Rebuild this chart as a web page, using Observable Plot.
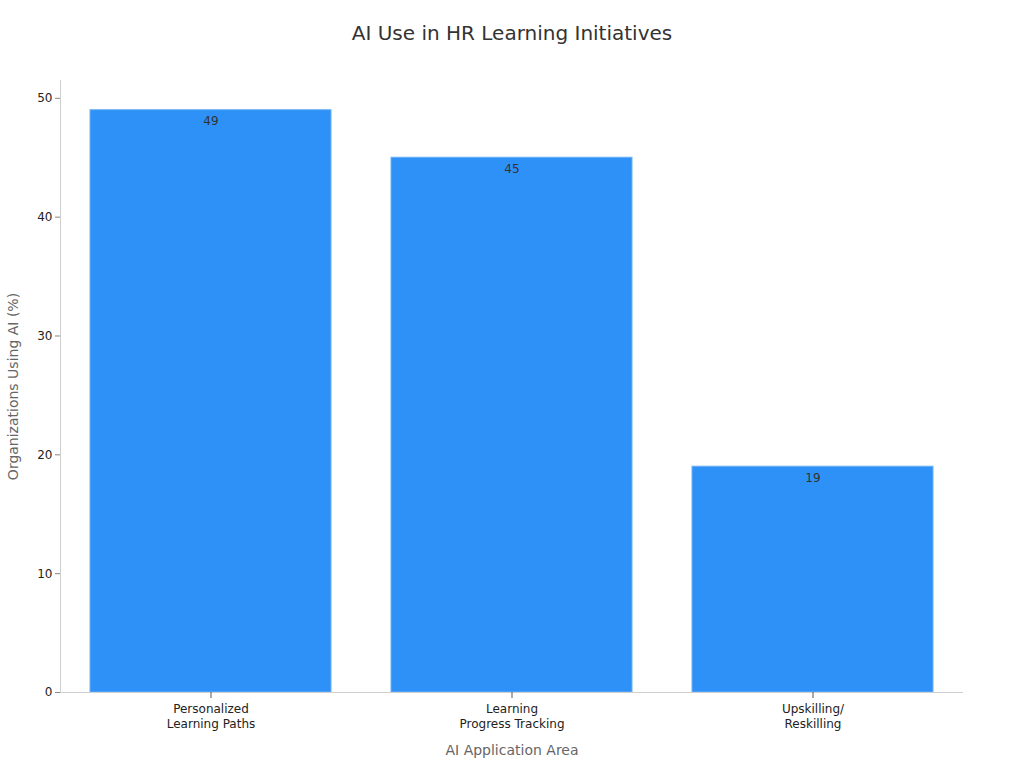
<!DOCTYPE html>
<html><head><meta charset="utf-8">
<script src="https://cdn.jsdelivr.net/npm/d3@7"></script>
<script src="https://cdn.jsdelivr.net/npm/@observablehq/plot@0.6"></script>
<style>
body{margin:0;background:#fff;font-family:"DejaVu Sans",sans-serif;}
#title{height:60px;box-sizing:border-box;padding-top:22px;text-align:center;font-size:20px;line-height:22px;color:#333;}
#chart svg{display:block;}
</style></head>
<body>
<div id="title">AI Use in HR Learning Initiatives</div>
<div id="chart"></div>
<script>
const categories = ["Personalized\nLearning Paths", "Learning\nProgress Tracking", "Upskilling/\nReskilling"];
const values = [49, 45, 19];
const yTicks = [0, 10, 20, 30, 40, 50];

const data = categories.map((c, i) => ({category: c, value: values[i]}));

const plot = Plot.plot({
  width: 1024,
  height: 708,
  marginTop: 20,
  marginLeft: 60,
  marginRight: 61,
  marginBottom: 76,
  style: {fontFamily: "DejaVu Sans, sans-serif", fontSize: "12px", color: "#222", background: "#fff"},
  x: {domain: categories, paddingInner: 0.2, paddingOuter: 0.1, label: null},
  y: {domain: [0, 51.5], label: null},
  marks: [
    Plot.barY(data, {x: "category", y: "value", fill: "#2e91f7", stroke: "#6ab0f5", strokeWidth: 1}),
    Plot.text(data, {x: "category", y: "value", text: d => String(d.value), dy: 11, fill: "#333", fontSize: 12}),
    Plot.frame({anchor: "left", stroke: "#cfcfcf"}),
    Plot.ruleY([0], {stroke: "#cfcfcf"}),
    Plot.axisY({ticks: yTicks, tickSize: 5, tickPadding: 3, stroke: "#888", fill: "#222", fontSize: 12, label: null}),
    Plot.axisX({tickSize: 6, tickPadding: 4, stroke: "#555", fill: "#222", fontSize: 12, lineHeight: 1.25, label: null}),
    Plot.axisY({ticks: [], label: "Organizations Using AI (%)", labelAnchor: "center", labelArrow: "none", labelOffset: 52, fill: "#666", fontSize: 14}),
    Plot.axisX({ticks: [], label: "AI Application Area", labelAnchor: "center", labelArrow: "none", labelOffset: 62, fill: "#666", fontSize: 14})
  ]
});
document.getElementById("chart").appendChild(plot);
</script>
</body></html>
